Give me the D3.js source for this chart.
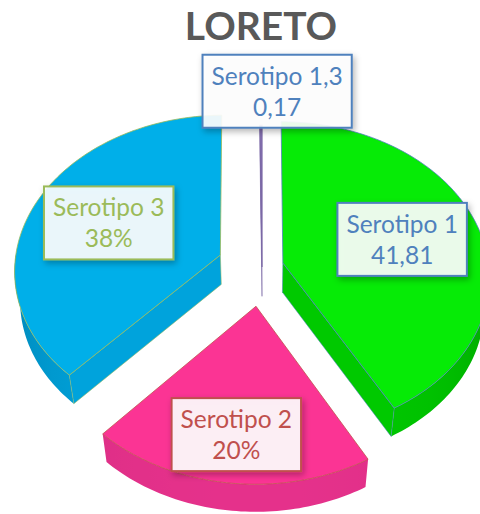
<!DOCTYPE html>
<html>
<head>
<meta charset="utf-8">
<script src="https://cdn.jsdelivr.net/npm/d3@7"></script>
<style>
  html, body { margin: 0; background: #fff; }
  svg { display: block; font-family: Lato, "Open Sans", sans-serif; }
</style>
</head>
<body>
<div id="chart"></div>
<script>
var title = "LORETO";
var categories = ["Serotipo 1", "Serotipo 2", "Serotipo 3", "Serotipo 1,3"];
var values = [41.81, 20, 38, 0.17];
var valueLabels = ["41,81", "20%", "38%", "0,17"];

function init() {

    var w = 480;
    var h = 514;
    var cx = 262, cy = 267;

    // camera for the tilted 3D pie (radius = 1 world unit)
    var D = 7.35, f = 1514, sinP = 0.75, cosP = 0.661;
    var depth = 0.22;

    // per-slice styles, same order as categories
    var explode    = [0.105, 0.25, 0.218, 0];
    var topColor   = ["#06eb06", "#fb3494", "#00afe9", "#8a72b4"];
    var wallColor  = ["#00c900", "#e5318b", "#00a3dc", "#7a62a4"];
    var darkColor  = ["#006400", "#a01c5c", "#004f70", "#4b3a70"];
    var lineColor  = ["#4f81bd", "#c0504d", "#9bbb59", "#7b68a6"];
    var labelColor = ["#4f81bd", "#c0504d", "#9bbb59", "#4f81bd"];
    var labelR     = [0.61, 0.745, 0.60, 1.27];
    var labelShift = [0, 0, 0, 4];   // degrees
    var drawOrder  = [3, 2, 0, 1];   // back to front

    var slices = d3.pie()
                   .sort(null)
                   .value(function(d) { return d; })(values);

    function project(X, Y, Z) {
        var d = D - (Y * sinP + Z * cosP);
        return [cx + f * X / d, cy - f * (Y * cosP - Z * sinP) / d];
    }

    // point on slice s at angle a, radius r, height Y (0 = top face)
    function point(s, a, r, Y) {
        var m = (s.startAngle + s.endAngle) / 2;
        var e = explode[s.index];
        return project(r * Math.sin(a) + e * Math.sin(m), Y,
                       -r * Math.cos(a) - e * Math.cos(m));
    }

    function arcPoints(s, a0, a1, Y) {
        var n = Math.max(2, Math.ceil((a1 - a0) / 0.02));
        return d3.range(n + 1).map(function(i) {
            return point(s, a0 + (a1 - a0) * i / n, 1, Y);
        });
    }

    var poly = d3.line().curve(d3.curveLinearClosed);

    var svg = d3.select("#chart")
                .append("svg")
                .attr("width", w)
                .attr("height", h);

    var defs = svg.append("defs");
    defs.append("filter")
        .attr("id", "shadow")
        .attr("x", "-20%").attr("y", "-30%")
        .attr("width", "150%").attr("height", "170%")
        .append("feDropShadow")
        .attr("dx", 2).attr("dy", 3)
        .attr("stdDeviation", 3)
        .attr("flood-color", "#000")
        .attr("flood-opacity", 0.3);

    var pie = svg.append("g");

    drawOrder.forEach(function(i) {
        var s = slices[i];
        var g = pie.append("g");
        var a0 = s.startAngle, a1 = s.endAngle;

        // curved outer wall, only the part facing the viewer
        var w0 = Math.max(a0, Math.PI / 2), w1 = Math.min(a1, 3 * Math.PI / 2);
        if (w1 > w0) {
            var shade = d3.scaleLinear()
                          .domain([0, 1])
                          .range([darkColor[i], wallColor[i]])
                          .interpolate(d3.interpolateRgb);
            var xl = point(s, w1, 1, 0)[0], xr = point(s, w0, 1, 0)[0];
            var grad = defs.append("linearGradient")
                           .attr("id", "wall" + i)
                           .attr("gradientUnits", "userSpaceOnUse")
                           .attr("x1", xl).attr("x2", xr)
                           .attr("y1", 0).attr("y2", 0);
            d3.range(21).forEach(function(k) {
                var a = w1 - (w1 - w0) * k / 20;
                var t = Math.max(0, -Math.cos(a));
                grad.append("stop")
                    .attr("offset", (point(s, a, 1, 0)[0] - xl) / (xr - xl))
                    .attr("stop-color", shade(Math.pow(t, 0.3)));
            });
            var top = arcPoints(s, w0, w1, 0);
            var bottom = arcPoints(s, w0, w1, -depth).reverse();
            g.append("path")
             .attr("d", poly(top.concat(bottom)))
             .attr("fill", "url(#wall" + i + ")");
        }

        // radial walls
        [[a0, Math.sin(a0) < -1e-6], [a1, Math.sin(a1) > 1e-6]].forEach(function(r) {
            if (!r[1]) return;
            g.append("path")
             .attr("d", poly([point(s, r[0], 0, 0), point(s, r[0], 1, 0),
                              point(s, r[0], 1, -depth), point(s, r[0], 0, -depth)]))
             .attr("fill", wallColor[i])
             .attr("stroke", lineColor[i])
             .attr("stroke-width", 0.7)
             .attr("stroke-opacity", 0.8);
        });

        // top face
        g.append("path")
         .attr("d", poly([point(s, a0, 0, 0)].concat(arcPoints(s, a0, a1, 0))))
         .attr("fill", topColor[i])
         .attr("stroke", lineColor[i])
         .attr("stroke-width", i === 3 ? 1.2 : 0.8);
    });

    // title
    svg.append("text")
       .text(title)
       .attr("x", 261)
       .attr("y", 40)
       .attr("text-anchor", "middle")
       .attr("font-size", 39)
       .attr("font-weight", "bold")
       .attr("fill", "#595959");

    // data labels
    var labels = svg.selectAll("g.label")
                    .data(slices)
                    .enter()
                    .append("g")
                    .attr("class", "label")
                    .attr("transform", function(s) {
                        var m = (s.startAngle + s.endAngle) / 2 + labelShift[s.index] * Math.PI / 180;
                        var p = point(s, m, labelR[s.index], 0);
                        return "translate(" + p[0] + "," + p[1] + ")";
                    });

    labels.append("rect")
          .attr("fill", "#fff")
          .attr("fill-opacity", 0.9)
          .attr("stroke", function(s) { return labelColor[s.index]; })
          .attr("stroke-width", 2)
          .attr("filter", "url(#shadow)");

    labels.each(function(s) {
        var g = d3.select(this);
        var t1 = g.append("text")
                  .text(categories[s.index])
                  .attr("y", -6.5);
        var t2 = g.append("text")
                  .text(valueLabels[s.index])
                  .attr("y", 24.5);
        g.selectAll("text")
         .attr("text-anchor", "middle")
         .attr("font-size", 24.5)
         .attr("fill", labelColor[s.index]);
        var tw = Math.max(t1.node().getComputedTextLength(), t2.node().getComputedTextLength());
        g.select("rect")
         .attr("x", -tw / 2 - 9)
         .attr("y", -36.5)
         .attr("width", tw + 18)
         .attr("height", 73);
    });
}

window.onload = init;
</script>
</body>
</html>
